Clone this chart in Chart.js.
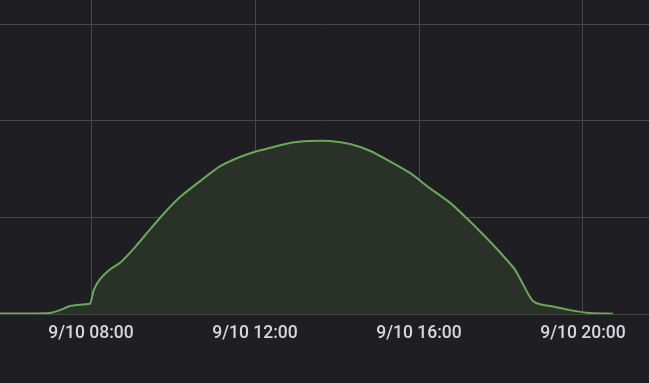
<!DOCTYPE html>
<html>
<head>
<meta charset="utf-8">
<script src="https://cdn.jsdelivr.net/npm/chart.js@4.4.0/dist/chart.umd.min.js"></script>
<style>
  html, body { margin: 0; padding: 0; background: #1f1f23; }
  #wrap { width: 649px; height: 383px; }
</style>
</head>
<body>
<div id="wrap"><canvas id="myChart"></canvas></div>
<script>
// time of day in hours
const hours = [5.5, 6.27, 7.0, 7.24, 7.49, 7.85, 7.98, 8.07, 8.22, 8.46, 8.71, 9.07, 9.44, 9.80, 10.17,
    10.66, 11.15, 11.63, 12.0, 12.37, 12.85, 13.34, 13.83, 14.32, 14.80, 15.29, 15.78, 16.27, 16.76,
    17.24, 17.73, 18.10, 18.34, 18.51, 18.66, 18.78, 18.95, 19.32, 19.68, 20.17, 20.73];
const power = [0.005, 0.005, 0.01, 0.04, 0.083, 0.10, 0.11, 0.25, 0.36, 0.46, 0.53, 0.69, 0.875, 1.05, 1.21,
    1.375, 1.53, 1.625, 1.68, 1.72, 1.77, 1.79, 1.79, 1.76, 1.69, 1.58, 1.46, 1.30, 1.15,
    0.96, 0.75, 0.58, 0.46, 0.33, 0.21, 0.135, 0.10, 0.073, 0.04, 0.01, 0.003];
const tickHours = [8, 12, 16, 20];
const yTicks = [0, 1, 2, 3];

const pad2 = (n) => (n < 10 ? '0' : '') + n;

const points = hours.map((h, i) => ({ x: h, y: power[i] }));

var ctx = document.getElementById('myChart').getContext('2d');
var myChart = new Chart(ctx, {
    type: 'line',
    data: {
        datasets: [{
            data: points,
            borderColor: '#6aa85b',
            backgroundColor: '#2a3129',
            borderWidth: 2,
            pointRadius: 0,
            fill: 'origin',
            tension: 0.2
        }]
    },
    options: {
        animation: false,
        maintainAspectRatio: false,
        layout: { padding: { left: 0, right: 0, top: 0, bottom: 30 } },
        plugins: { legend: { display: false }, tooltip: { enabled: false } },
        scales: {
            x: {
                type: 'linear',
                min: 5.78,
                max: 21.61,
                afterBuildTicks: (scale) => { scale.ticks = tickHours.map(v => ({ value: v })); },
                grid: { color: '#47474b', drawTicks: false },
                border: { display: false },
                ticks: {
                    color: '#d6d6dc',
                    padding: 9,
                    maxRotation: 0,
                    font: { family: 'Roboto', size: 17.5, weight: '500' },
                    callback: (value) => '9/10 ' + pad2(value) + ':00'
                }
            },
            y: {
                min: 0,
                max: 3.25,
                afterBuildTicks: (scale) => { scale.ticks = yTicks.map(v => ({ value: v })); },
                grid: { color: '#47474b', drawTicks: false },
                border: { display: false },
                ticks: { display: false }
            }
        }
    }
});
</script>
</body>
</html>
